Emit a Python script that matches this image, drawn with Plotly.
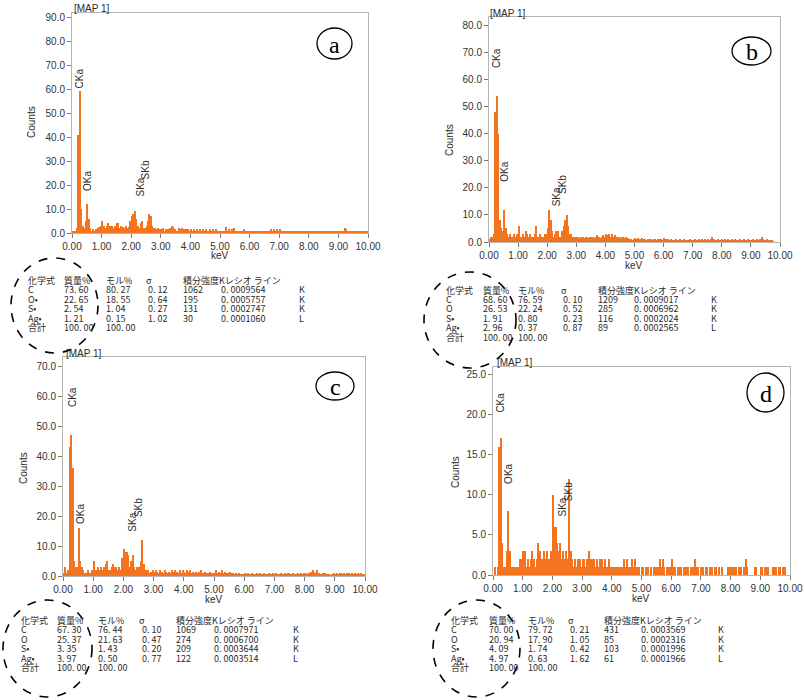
import plotly.graph_objects as go

W, H = 805, 700

# ---------------- data ----------------
energy_kev = [round(0.025 + 0.05 * i, 3) for i in range(200)]  # bin centres (0.05 keV bins)

counts_a = [
    0.5, 1, 1, 2, 41, 59, 10, 3, 2, 5, 12, 6, 2, 1, 1.5, 1, 1.5, 2, 2.5, 3,
    5, 3, 2, 3, 4, 3, 2.5, 3, 2, 3, 4, 4, 2, 3, 2.5, 2, 3, 2, 2.5, 5,
    7, 8, 9, 6, 3, 2, 4, 5, 2, 2, 3, 5, 8, 7, 3, 2, 2, 1.5, 2, 1.5,
    1.5, 2, 1, 1.5, 1.5, 1.5, 2, 3, 2.5, 1.5, 1, 1, 2, 1.5, 2, 1.5, 1, 1.5, 1.5, 1,
    1.5, 1, 1.5, 1, 1.5, 1, 1.5, 1, 1.5, 1, 1.5, 1, 1, 1.5, 1, 1.5, 1, 1.5, 1, 0.5,
    0.5, 1, 0.5, 1, 2.5, 1, 1.5, 1, 1.5, 2, 1, 0.5, 1, 0.5, 1, 0.5, 1.5, 0.5, 1, 0.5,
    1, 0.5, 0.5, 1, 0.5, 0.5, 0.5, 1, 1, 1, 1, 1, 1, 1, 1.5, 1, 1.5, 1, 1.5, 1,
    1.5, 1, 0.5, 1, 1, 0.5, 1, 0.5, 1, 0.5, 1, 0.5, 1, 0.5, 1, 0.5, 0.5, 1, 0.5, 1,
    0.5, 1, 0.5, 1, 0.5, 0.5, 1, 0.5, 1, 0.5, 1, 0.5, 0.5, 1, 0.5, 0.5, 0.5, 0.5, 0.5, 0.5,
    0.5, 1, 0.5, 1, 2, 1.5, 1, 0.5, 1, 0.5, 0.5, 1, 0.5, 0.5, 1, 0.5, 0.5, 1, 0.5, 0.5,
]
counts_b = [
    1, 2, 2, 3, 48, 54, 40, 8, 5, 4, 12, 5, 3, 2, 3, 2, 2, 3, 2, 3,
    6, 2, 2, 3, 2, 4, 3, 2, 3, 2, 2, 3, 6, 2, 2, 3, 2, 2, 3, 3,
    5, 12, 8, 4, 2, 3, 4, 4, 2, 2, 4, 6, 8, 10, 6, 3, 3, 2, 2, 2,
    2, 2, 1.5, 2, 2, 1.5, 2, 2, 1.5, 2, 2, 2, 1.5, 2, 2.5, 2, 1.5, 2, 2.5, 2,
    3, 2.5, 3, 2, 3, 2, 2.5, 2, 2, 2, 1.5, 2, 2, 1.5, 2, 1.5, 1, 1, 0.5, 1,
    1.5, 1, 1.5, 1, 1, 1.5, 1, 1, 0.5, 1, 1, 1, 0.5, 1, 1, 0.5, 1, 1, 1, 0.5,
    1.5, 1, 0.5, 1, 0.5, 1, 0.5, 0.5, 1, 0.5, 0.5, 1, 0.5, 0.5, 1, 0.5, 0.5, 0.5, 1, 0.5,
    0.5, 1, 0.5, 0.5, 1, 0.5, 1, 0.5, 1, 0.5, 1, 0.5, 1, 2, 1, 0.5, 0.5, 1, 0.5, 0.5,
    1, 0.5, 1, 0.5, 1, 0.5, 0.5, 1, 0.5, 1, 0.5, 0.5, 1, 0.5, 0.5, 1, 0.5, 0.5, 1, 0.5,
    0.5, 1, 0.5, 0.5, 1, 0.5, 1, 2, 1, 0.5, 0.5, 1, 0.5, 0.5, 0.5, 0.2, 0, 0, 0, 0,
]
counts_c = [
    1, 3, 1, 2, 43, 47, 36, 5, 3, 3, 16, 5, 3, 2, 1, 1, 2, 1, 1, 2,
    5, 2, 2, 3, 2, 3, 2, 3, 4, 5, 2, 2, 3, 4, 3, 3, 2, 3, 2, 6,
    9, 8, 8, 7, 3, 5, 7, 3, 2, 3, 3, 5, 12, 4, 2, 2, 2, 1, 1.5, 2,
    1.5, 2, 1.5, 1, 2, 1.5, 1, 2, 1.5, 1, 1.5, 1, 2, 1.5, 2, 1.5, 1, 2, 1, 2,
    1.5, 1, 2, 1.5, 2, 1, 1.5, 1, 1.5, 1, 1.5, 2, 1, 1, 1.5, 1, 1, 1.5, 1, 1,
    1, 2, 1, 1.5, 1, 2, 1, 1.5, 1, 1, 1.5, 1, 1, 0.5, 1, 0.5, 1, 0.5, 0.5, 0.5,
    1, 0.5, 1, 0.5, 0.5, 1, 0.5, 0.5, 1, 0.5, 1, 0.5, 0.5, 1, 0.5, 0.5, 1, 0.5, 0.5, 1,
    0.5, 1, 0.5, 0.5, 1, 0.5, 0.5, 1, 0.5, 1, 0.5, 0.5, 1, 0.5, 0.5, 1, 0.5, 1, 0.5, 1,
    1, 0.5, 1, 1, 1.5, 2, 1.5, 1, 2, 1, 0.5, 0.5, 1, 1, 0.5, 0.5, 0.5, 0.2, 0.5, 1,
    0.5, 1, 0.5, 1, 1, 0.5, 1, 0.5, 1, 1, 0.5, 1, 0.5, 1, 0.5, 1, 0.5, 1, 0.5, 0.5,
]
counts_d = [
    0, 1, 0, 1, 16, 17, 4, 1, 1, 3, 8, 3, 1, 1, 1, 1, 1, 1, 2, 2,
    3, 3, 1, 2, 1, 2, 3, 2, 1, 2, 4, 3, 2, 2, 3, 2, 3, 2, 2, 3,
    10, 6, 6, 4, 3, 4, 2, 3, 2, 3, 2, 12, 3, 2, 1, 2, 1, 2, 2, 1,
    2, 2, 1, 2, 3, 2, 2, 1, 2, 1, 2, 1, 2, 2, 1, 2, 1, 1, 2, 1,
    1, 1, 1, 1, 1, 1, 1, 1, 2, 1, 2, 1, 1, 2, 1, 2, 1, 1, 1, 0,
    1, 1, 0, 1, 1, 0, 1, 0, 1, 1, 1, 1, 2, 1, 2, 1, 0, 1, 1, 1,
    2, 1, 1, 0, 1, 1, 1, 0, 1, 1, 1, 1, 0, 1, 1, 1, 2, 1, 1, 0,
    1, 1, 0, 1, 1, 0, 1, 1, 0, 1, 1, 0, 1, 0, 1, 0, 0, 0, 1, 1,
    1, 1, 1, 1, 0, 1, 1, 1, 0, 1, 2, 1, 0, 0, 0, 0, 1, 1, 0, 0,
    1, 1, 0, 1, 1, 1, 0, 0, 1, 1, 1, 0, 1, 1, 0, 1, 1, 0, 0, 0,
]

panel_letters = ["a", "b", "c", "d"]
y_max = [91.7, 83.3, 73.0, 25.9]
y_dtick = [10, 10, 10, 5]
x_tick_vals = [0, 1, 2, 3, 4, 5, 6, 7, 8, 9, 10]

peak_names = ["CKa", "OKa", "SKa", "SKb"]
peak_kev = [
    [0.25, 0.50, 2.33, 2.49],
    [0.24, 0.52, 2.30, 2.50],
    [0.30, 0.56, 2.32, 2.50],
    [0.27, 0.50, 2.35, 2.55],
]
peak_label_base = [
    [60, 17, 15, 22],
    [64, 22, 13, 17.5],
    [56, 17, 14.3, 19.3],
    [20.1, 11.2, 7.2, 9.1],
]

table_header = ["化学式", "質量%", "モル%", "σ", "積分強度Kレシオ ライン"]
table_elements = ["C", "O•", "S•", "Ag•", "合計"]
table_elements_bcd = ["C", "O", "S•", "Ag•", "合計"]
mass_pct = [["73.60", "22.65", "2.54", "1.21", "100.00"],
            ["68.60", "26.53", "1.91", "2.96", "100.00"],
            ["67.30", "25.37", "3.35", "3.97", "100.00"],
            ["70.00", "20.94", "4.09", "4.97", "100.00"]]
mol_pct = [["80.27", "18.55", "1.04", "0.15", "100.00"],
           ["76.59", "22.24", "0.80", "0.37", "100.00"],
           ["76.44", "21.63", "1.43", "0.50", "100.00"],
           ["79.72", "17.90", "1.74", "0.63", "100.00"]]
sigma = [["0.12", "0.64", "0.27", "1.02"],
         ["0.10", "0.52", "0.23", "0.87"],
         ["0.10", "0.47", "0.20", "0.77"],
         ["0.21", "1.05", "0.42", "1.62"]]
intensity = [["1062", "195", "131", "30"],
             ["1209", "285", "116", "89"],
             ["1069", "274", "209", "122"],
             ["431", "85", "103", "61"]]
k_ratio = [["0.0009564", "0.0005757", "0.0002747", "0.0001060"],
           ["0.0009017", "0.0006962", "0.0002024", "0.0002565"],
           ["0.0007971", "0.0006700", "0.0003644", "0.0003514"],
           ["0.0003569", "0.0002316", "0.0001996", "0.0001966"]]
line_type = ["K", "K", "K", "L"]


def disp(s):
    # the instrument prints a blank after the decimal point
    return s.replace(".", ". ")


# ---------------- layout geometry (pixels) ----------------
def px(x):
    return x / W


def py(y):
    return 1 - y / H


boxes = [  # left, right, top, bottom (px)
    (72, 368, 13, 233),
    (489, 780, 17, 242),
    (63, 365, 357, 576),
    (493, 790, 367, 575),
]
map_pos = [(72, 8), (488, 13), (64, 354), (495, 362)]
counts_pos = [(32, 122), (450, 140), (23, 468), (455, 472)]
kev_pos = [(220, 256), (634, 265), (214, 599), (641, 598)]
letter_circ = [(317, 28, 352, 59), (732, 37, 771, 65), (316, 372, 354, 400), (747, 373, 784, 412)]
dash_circ = [(11, 258, 98, 353), (424, 272, 516, 368), (3, 600, 92, 697), (433, 600, 520, 697)]
# table: header y, row pitch, column x positions, sigma-value x
table_geo = [
    (280, 9.5, [27, 63, 105, 145, 182, 220, 298], 147),
    (290, 9.4, [445, 482, 517, 560, 597, 633, 710], 562),
    (620, 9.5, [20, 56, 97, 138, 175, 213, 292], 141),
    (620, 9.5, [450, 488, 527, 567, 603, 640, 717], 569),
]

all_counts = [counts_a, counts_b, counts_c, counts_d]
ORANGE = "#f3731e"
TXT = "#2a2a2a"
tick_font = dict(family="Liberation Sans, Arial", size=10, color="#333333")
tab_font = dict(family="Noto Sans CJK JP", size=9, color=TXT)
lab_font = dict(family="Liberation Sans, Arial", size=10, color=TXT)

fig = go.Figure()
annotations = []
shapes = []

for k in range(4):
    sfx = "" if k == 0 else str(k + 1)
    fig.add_trace(go.Bar(
        x=energy_kev, y=all_counts[k], width=0.05,
        marker=dict(color=ORANGE, line=dict(width=0)),
        xaxis="x" + sfx, yaxis="y" + sfx, showlegend=False,
    ))
    l, r, t, b = boxes[k]
    fig.update_layout(**{
        "xaxis" + sfx: dict(
            domain=[px(l), px(r)], anchor="y" + sfx, range=[0, 10], automargin=False,
            tickvals=x_tick_vals, tickformat=".2f", ticks="outside", ticklen=4,
            tickcolor="#777", showline=True, mirror=True, linecolor="#b5b5b5",
            linewidth=1, showgrid=False, zeroline=False, tickfont=tick_font,
        ),
        "yaxis" + sfx: dict(
            domain=[py(b), py(t)], anchor="x" + sfx, range=[0, y_max[k]], automargin=False,
            dtick=y_dtick[k], tick0=0, tickformat=".1f", ticks="outside", ticklen=4,
            tickcolor="#777", showline=True, mirror=True, linecolor="#b5b5b5",
            linewidth=1, showgrid=False, zeroline=False, tickfont=tick_font,
        ),
    })
    xr, yr = "x" + sfx, "y" + sfx
    # peak labels
    for name, xk, yb in zip(peak_names, peak_kev[k], peak_label_base[k]):
        annotations.append(dict(x=xk, y=yb, xref=xr, yref=yr, text=name, textangle=-90,
                                showarrow=False, xanchor="center", yanchor="bottom",
                                font=lab_font, borderpad=0))
    mx, my = map_pos[k]
    annotations.append(dict(x=px(mx), y=py(my), xref="paper", yref="paper", text="[MAP 1]",
                            showarrow=False, xanchor="left", yanchor="middle", font=lab_font))
    cx, cy = counts_pos[k]
    annotations.append(dict(x=px(cx), y=py(cy), xref="paper", yref="paper", text="Counts",
                            textangle=-90, showarrow=False, xanchor="center", yanchor="middle",
                            font=lab_font))
    kx, ky = kev_pos[k]
    annotations.append(dict(x=px(kx), y=py(ky), xref="paper", yref="paper", text="keV",
                            showarrow=False, xanchor="center", yanchor="middle", font=lab_font))
    # letter in circle
    x0, y0, x1, y1 = letter_circ[k]
    shapes.append(dict(type="circle", xref="paper", yref="paper", x0=px(x0), x1=px(x1),
                       y0=py(y1), y1=py(y0), line=dict(color="black", width=1.3)))
    annotations.append(dict(x=px((x0 + x1) / 2), y=py((y0 + y1) / 2 + 1), xref="paper", yref="paper",
                            text=panel_letters[k], showarrow=False, xanchor="center", yanchor="middle",
                            font=dict(family="Liberation Serif, Times New Roman", size=24, color="black")))
    # dashed circle
    x0, y0, x1, y1 = dash_circ[k]
    shapes.append(dict(type="circle", xref="paper", yref="paper", x0=px(x0), x1=px(x1),
                       y0=py(y1), y1=py(y0), line=dict(color="black", width=1.6, dash="dash")))
    # table
    hy, pitch, cols, sig_x = table_geo[k]
    hdr_x = [cols[0], cols[1], cols[2], cols[3], cols[4]]
    for txt, hx in zip(table_header, hdr_x):
        annotations.append(dict(x=px(hx), y=py(hy), xref="paper", yref="paper", text=txt,
                                showarrow=False, xanchor="left", yanchor="middle", font=tab_font,
                                borderpad=0))
    elems = table_elements if k == 0 else table_elements_bcd
    for i in range(5):
        yy = hy + pitch * (i + 1)
        row = [(cols[0], elems[i]), (cols[1], disp(mass_pct[k][i])), (cols[2], disp(mol_pct[k][i]))]
        if i < 4:
            row += [(sig_x, disp(sigma[k][i])), (cols[4], intensity[k][i]),
                    (cols[5], disp(k_ratio[k][i])), (cols[6], line_type[i])]
        for xx, txt in row:
            annotations.append(dict(x=px(xx), y=py(yy), xref="paper", yref="paper", text=txt,
                                    showarrow=False, xanchor="left", yanchor="middle", font=tab_font,
                                    borderpad=0))

fig.update_layout(
    width=W, height=H, margin=dict(l=0, r=0, t=0, b=0, autoexpand=False),
    paper_bgcolor="white", plot_bgcolor="white", bargap=0,
    annotations=annotations, shapes=shapes, showlegend=False,
)

# the page's default 8px body margin would offset the figure inside the 805x700 window
fig.write_html("out.html", config={"displayModeBar": False},
               post_script="document.body.style.margin='0px';")
